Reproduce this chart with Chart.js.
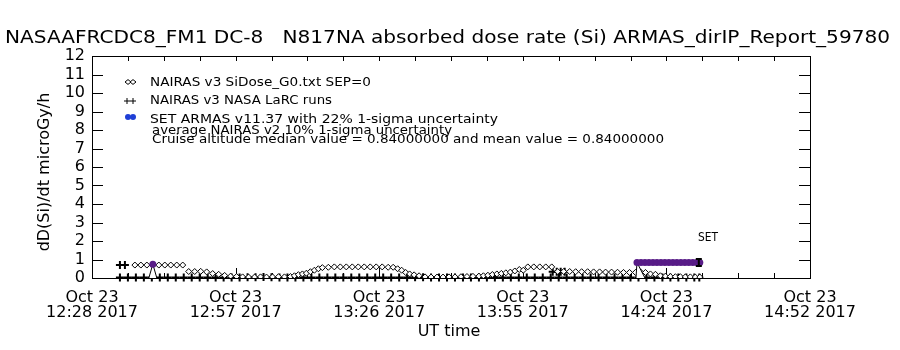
<!DOCTYPE html>
<html>
<head>
<meta charset="utf-8">
<script src="https://cdn.jsdelivr.net/npm/chart.js@4/dist/chart.umd.min.js"></script>
<style>
  html, body { margin: 0; padding: 0; background: #fff; }
  #wrap { width: 900px; height: 350px; }
</style>
</head>
<body>
<div id="wrap"><canvas id="doseChart" width="900" height="350"></canvas></div>
<script>
// zaman: 12:28 UT'den itibaren dakika
const xTickTimes = [0, 28.8, 57.6, 86.4, 115.2, 144];
const xTickDates = ["Oct 23", "Oct 23", "Oct 23", "Oct 23", "Oct 23", "Oct 23"];
const xTickClock = ["12:28 2017", "12:57 2017", "13:26 2017", "13:55 2017", "14:24 2017", "14:52 2017"];
const yTickValues = [0, 1, 2, 3, 4, 5, 6, 7, 8, 9, 10, 11, 12];

// NAIRAS v3 SiDose_G0.txt (açık baklava)
const nairasTimes = [8.6, 9.8, 11.0, 12.2, 13.4, 14.6, 15.8, 17.0, 18.2,
  19.4, 20.6, 21.8, 23.0, 24.2, 25.4, 26.6, 27.8, 29.0,
  30.2, 31.4, 32.6, 33.8, 35.0, 36.2, 37.4, 38.6, 39.8,
  40.6, 41.4, 42.2, 43.0, 43.8, 44.6, 45.4, 46.2,
  47.4, 48.6, 49.8, 51.0, 52.2, 53.4, 54.6, 55.8, 57.0, 58.2, 59.4, 60.4,
  61.3, 62.1, 62.9, 63.7, 64.6, 65.6,
  66.8, 68.0, 69.2, 70.4, 71.6, 72.8, 74.0, 75.2, 76.4, 77.6,
  78.5, 79.4, 80.3, 81.2, 82.1, 83.0, 83.9, 84.8, 85.7, 86.5,
  87.4, 88.6, 89.8, 91.0, 92.2,
  93.4, 94.6, 95.8, 97.0, 98.2, 99.4, 100.6, 101.8, 103.0, 104.2, 105.4, 106.6, 107.8, 109.0,
  110.0, 111.0, 112.0, 113.0, 114.0, 115.0, 116.0, 117.0, 118.0, 119.0, 120.0, 121.0, 121.9];
const nairasDose = [0.70, 0.70, 0.70, 0.70, 0.70, 0.70, 0.70, 0.70, 0.70,
  0.35, 0.35, 0.36, 0.33, 0.24, 0.20, 0.14, 0.10, 0.08,
  0.06, 0.05, 0.05, 0.06, 0.05, 0.06, 0.07, 0.06, 0.08,
  0.12, 0.18, 0.22, 0.26, 0.34, 0.42, 0.50, 0.56,
  0.58, 0.60, 0.60, 0.60, 0.60, 0.60, 0.60, 0.60, 0.60, 0.60, 0.58, 0.58,
  0.50, 0.42, 0.30, 0.22, 0.17, 0.12,
  0.06, 0.05, 0.05, 0.05, 0.06, 0.06, 0.07, 0.08, 0.09, 0.10,
  0.12, 0.15, 0.19, 0.22, 0.25, 0.28, 0.32, 0.38, 0.46, 0.42,
  0.60, 0.60, 0.60, 0.60, 0.60,
  0.35, 0.35, 0.35, 0.34, 0.34, 0.34, 0.33, 0.33, 0.32, 0.32, 0.31, 0.30, 0.30, 0.30,
  0.33, 0.30, 0.22, 0.20, 0.12, 0.10, 0.08, 0.07, 0.07, 0.06, 0.06, 0.05, 0.05];

// NAIRAS v3 NASA LaRC runs (artı)
const larcTimes = [5.6, 6.6, 92.4, 93.2, 94.0, 94.8,
  5.6, 7.2, 8.8, 10.4, 12.0, 13.6, 15.2, 16.8, 18.4, 20.0, 21.6, 23.2, 24.8, 26.4, 28.0,
  29.6, 31.2, 32.8, 34.4, 36.0, 37.6, 39.2, 40.8, 42.4, 44.0, 45.6, 47.2, 48.8, 50.4,
  52.0, 53.6, 55.2, 56.8, 58.4, 60.0, 61.6, 63.2, 64.8, 66.4, 68.0, 69.6, 71.2, 72.8,
  74.4, 76.0, 77.6, 79.2, 80.8, 82.4, 84.0, 85.6, 87.2, 88.8, 90.4, 92.0, 93.6, 95.2,
  96.8, 98.4, 100.0, 101.6, 103.2, 104.8, 106.4, 108.0, 109.6, 111.2, 112.8, 114.4,
  116.0, 117.6, 119.2, 120.8, 121.8];
const larcDose = [0.70, 0.70, 0.34, 0.34, 0.34, 0.34,
  0.03, 0.03, 0.03, 0.03, 0.03, 0.03, 0.03, 0.03, 0.03, 0.03, 0.03, 0.03, 0.03, 0.03, 0.03,
  0.03, 0.04, 0.04, 0.05, 0.04, 0.03, 0.03, 0.03, 0.03, 0.03, 0.03, 0.03, 0.03, 0.03,
  0.03, 0.03, 0.03, 0.03, 0.03, 0.03, 0.03, 0.03, 0.04, 0.04, 0.03, 0.03, 0.03, 0.03,
  0.03, 0.03, 0.03, 0.03, 0.03, 0.03, 0.03, 0.03, 0.03, 0.03, 0.03, 0.03, 0.03, 0.03,
  0.03, 0.03, 0.03, 0.03, 0.03, 0.03, 0.03, 0.03, 0.03, 0.03, 0.03, 0.03,
  0.03, 0.03, 0.03, 0.03, 0.03];

// SET ARMAS v11.37 ölçümleri (dolu daire)
const armasTimes = [12.2, 109.3, 110.1, 110.9, 111.7, 112.5, 113.3, 114.1, 114.9, 115.7,
  116.5, 117.3, 118.1, 118.9, 119.7, 120.5, 121.3, 121.9];
const armasDose = [0.75, 0.84, 0.84, 0.84, 0.84, 0.84, 0.84, 0.84, 0.84, 0.84,
  0.84, 0.84, 0.84, 0.84, 0.84, 0.84, 0.84, 0.84];

// ARMAS noktalarından sıfıra inen çizgiler
const tentTimes = [11.4, 12.2, 13.0, null, 109.1, 109.3, 110.9];
const tentDose = [0, 0.75, 0, null, 0, 0.84, 0];

// seyir irtifası ortalaması ve %22 belirsizlik
const cruiseTime = 121.7;
const cruiseMean = 0.84;
const cruiseSigma = 0.22;

const legendLines = [
  "NAIRAS v3 SiDose_G0.txt SEP=0",
  "NAIRAS v3 NASA LaRC runs",
  "SET ARMAS v11.37 with 22% 1-sigma uncertainty",
  "average NAIRAS v2 10% 1-sigma uncertainty",
  "Cruise altitude median value = 0.84000000 and mean value = 0.84000000"
];
const titleText = "NASAAFRCDC8_FM1 DC-8   N817NA absorbed dose rate (Si) ARMAS_dirIP_Report_59780";

const FONT = '"DejaVu Sans", "Liberation Sans", sans-serif';
const purple = "#581c87";

function toPoints(xs, ys) {
    return xs.map((x, i) => (x === null ? { x: NaN, y: NaN } : { x: x, y: ys[i] }));
}

// metni verilen genişliğe sığdır
function fitText(ctx, text, x, y, width, size) {
    ctx.save();
    ctx.font = size + "px " + FONT;
    ctx.textAlign = "left";
    ctx.textBaseline = "alphabetic";
    const m = ctx.measureText(text).width;
    ctx.translate(x, y);
    ctx.scale(width / m, 1);
    ctx.fillText(text, 0, 0);
    ctx.restore();
}

function diamond(ctx, x, y, r) {
    ctx.beginPath();
    ctx.moveTo(x - r, y);
    ctx.lineTo(x, y - r * 0.8);
    ctx.lineTo(x + r, y);
    ctx.lineTo(x, y + r * 0.8);
    ctx.closePath();
    ctx.fillStyle = "#fff";
    ctx.fill();
    ctx.stroke();
}

const framePlugin = {
    id: "idlFrame",
    beforeDatasetsDraw(chart) {
        const { ctx, chartArea: a, scales } = chart;
        ctx.save();
        ctx.strokeStyle = "#000";
        ctx.lineWidth = 1;
        ctx.strokeRect(a.left + 0.5, a.top + 0.5, a.right - a.left, a.bottom - a.top);
        ctx.beginPath();
        yTickValues.forEach(v => {
            const py = Math.round(scales.y.getPixelForValue(v)) + 0.5;
            ctx.moveTo(a.left, py); ctx.lineTo(a.left + 11, py);
            ctx.moveTo(a.right, py); ctx.lineTo(a.right - 11, py);
        });
        const xMax = scales.x.max;
        for (let t = 0; t <= xMax + 0.01; t += 7.2) {
            const px = Math.round(scales.x.getPixelForValue(t)) + 0.5;
            const major = xTickTimes.some(v => Math.abs(v - t) < 0.05);
            ctx.moveTo(px, a.top); ctx.lineTo(px, a.top + 5);
            ctx.moveTo(px, a.bottom); ctx.lineTo(px, a.bottom - (major ? 10 : 5));
        }
        ctx.stroke();
        ctx.restore();
    },
    afterDatasetsDraw(chart) {
        const { ctx, scales } = chart;
        // ortalama değer hata çubuğu
        const px = scales.x.getPixelForValue(cruiseTime);
        const lo = scales.y.getPixelForValue(cruiseMean * (1 - cruiseSigma));
        const hi = scales.y.getPixelForValue(cruiseMean * (1 + cruiseSigma));
        ctx.save();
        ctx.strokeStyle = "#000";
        ctx.lineWidth = 2;
        ctx.beginPath();
        ctx.moveTo(px, lo); ctx.lineTo(px, hi);
        ctx.moveTo(px - 3, lo); ctx.lineTo(px + 3, lo);
        ctx.moveTo(px - 3, hi); ctx.lineTo(px + 3, hi);
        ctx.stroke();
        ctx.restore();
    },
    afterDraw(chart) {
        const { ctx } = chart;
        ctx.save();
        ctx.fillStyle = "#000";
        fitText(ctx, titleText, 5, 43, 885, 18);

        // lejant
        fitText(ctx, legendLines[0], 150, 86, 221, 13);
        fitText(ctx, legendLines[1], 150, 104, 182, 13);
        fitText(ctx, legendLines[2], 150, 123, 348, 13);
        fitText(ctx, legendLines[3], 152, 134, 300, 13);
        fitText(ctx, legendLines[4], 152, 143, 512, 13);

        ctx.strokeStyle = "#000";
        ctx.lineWidth = 1;
        diamond(ctx, 128, 82, 3);
        diamond(ctx, 133, 82, 3);
        ctx.beginPath();
        [127, 133].forEach(x => {
            ctx.moveTo(x - 3, 101); ctx.lineTo(x + 3, 101);
            ctx.moveTo(x, 98); ctx.lineTo(x, 104);
        });
        ctx.stroke();
        ctx.fillStyle = "#1f3fd6";
        [128, 133].forEach(x => {
            ctx.beginPath();
            ctx.arc(x, 117, 3, 0, Math.PI * 2);
            ctx.fill();
        });

        ctx.fillStyle = "#000";
        fitText(ctx, "SET", 698, 241, 20, 13);

        // eksen başlıkları
        ctx.font = "16px " + FONT;
        ctx.textAlign = "center";
        ctx.textBaseline = "middle";
        ctx.fillText("UT time", 449, 332);
        ctx.translate(45, 172);
        ctx.rotate(-Math.PI / 2);
        ctx.fillText("dD(Si)/dt microGy/h", 0, 0);
        ctx.restore();
    }
};

new Chart(document.getElementById("doseChart"), {
    type: "scatter",
    data: {
        datasets: [
            {
                label: "SET ARMAS",
                data: toPoints(armasTimes, armasDose),
                pointStyle: "circle",
                pointRadius: 3.5,
                backgroundColor: purple,
                borderColor: purple,
                borderWidth: 0,
                order: 0,
            },
            {
                type: "line",
                label: "tent",
                data: toPoints(tentTimes, tentDose),
                borderColor: "#000",
                borderWidth: 1,
                backgroundColor: "#fff",
                fill: "origin",
                pointRadius: 0,
                tension: 0,
                spanGaps: false,
                order: 1,
            },
            {
                label: "NAIRAS v3 SiDose",
                data: toPoints(nairasTimes, nairasDose),
                pointStyle: "rectRot",
                pointRadius: 3,
                backgroundColor: "#fff",
                borderColor: "#000",
                borderWidth: 1,
                order: 2,
            },
            {
                label: "NAIRAS v3 LaRC",
                data: toPoints(larcTimes, larcDose),
                pointStyle: "cross",
                pointRadius: 4,
                borderColor: "#000",
                borderWidth: 2,
                clip: false,
                order: 3,
            },
        ],
    },
    options: {
        responsive: false,
        animation: false,
        events: [],
        layout: { padding: { top: 56, right: 90, left: 0, bottom: 0 } },
        plugins: { legend: { display: false }, tooltip: { enabled: false } },
        scales: {
            x: {
                type: "linear",
                min: 0,
                max: 144,
                grid: { display: false, drawTicks: false },
                border: { display: false },
                afterBuildTicks: scale => { scale.ticks = xTickTimes.map(v => ({ value: v })); },
                afterFit: scale => { scale.height = 72; },
                ticks: {
                    autoSkip: false,
                    maxRotation: 0,
                    padding: 12,
                    color: "#000",
                    font: { family: FONT, size: 16, lineHeight: 0.95 },
                    callback: (value, index) => [xTickDates[index], xTickClock[index]],
                },
            },
            y: {
                min: 0,
                max: 12,
                grid: { display: false, drawTicks: false },
                border: { display: false },
                afterBuildTicks: scale => { scale.ticks = yTickValues.map(v => ({ value: v })); },
                afterFit: scale => { scale.width = 92; },
                ticks: {
                    autoSkip: false,
                    padding: 7,
                    color: "#000",
                    font: { family: FONT, size: 16 },
                },
            },
        },
    },
    plugins: [framePlugin],
});
</script>
</body>
</html>
